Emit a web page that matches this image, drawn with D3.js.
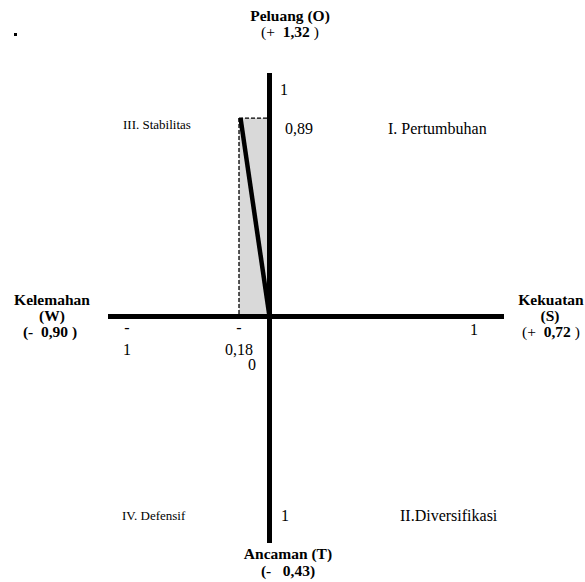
<!DOCTYPE html>
<html>
<head>
<meta charset="utf-8">
<script src="https://cdn.jsdelivr.net/npm/d3@7"></script>
<style>
  html, body { margin: 0; padding: 0; background: #fff; }
  svg { display: block; }
</style>
</head>
<body>
<svg id="chart" width="585" height="582" font-family="'Liberation Serif', 'DejaVu Serif', serif"></svg>
<script>
// ---- data ----
const factorNames = ["Peluang (O)", "Kekuatan", "Ancaman (T)", "Kelemahan"];
const factorCodes = ["", "(S)", "", "(W)"];
const factorSigns = ["+", "+", "-", "-"];
const factorScores = ["1,32", "0,72", "0,43", "0,90"];
const quadrantNames = ["I. Pertumbuhan", "II.Diversifikasi", "III. Stabilitas", "IV. Defensif"];
const positionX = [-0.18];
const positionY = [0.89];
const tickLabels = ["1", "0,89", "1", "1", "0,18", "0", "1"];

// ---- layout ----
const FONT = "'Liberation Serif', 'DejaVu Serif', serif";
const svg = d3.select("#chart");
const ox = 269.5, oy = 316.5;
const x = d3.scaleLinear().domain([-1, 1]).range([ox - 169.4, ox + 169.4]);
const y = d3.scaleLinear().domain([-1, 1]).range([oy + 223, oy - 223]);

const pt = { x: positionX[0], y: positionY[0] };

// shaded rectangle
svg.append("rect")
  .attr("x", x(pt.x)).attr("y", y(pt.y))
  .attr("width", x(0) - x(pt.x)).attr("height", y(0) - y(pt.y))
  .attr("fill", "#d9d9d9");

// dashed guides
svg.append("line")
  .attr("x1", x(pt.x)).attr("y1", y(pt.y)).attr("x2", x(0)).attr("y2", y(pt.y))
  .attr("stroke", "#000").attr("stroke-width", 1.3).attr("stroke-dasharray", "4,2");
svg.append("line")
  .attr("x1", x(pt.x)).attr("y1", y(pt.y)).attr("x2", x(pt.x)).attr("y2", y(0))
  .attr("stroke", "#000").attr("stroke-width", 1.3).attr("stroke-dasharray", "4,2");

// axes
svg.append("line").attr("x1", 108).attr("x2", 504).attr("y1", oy).attr("y2", oy)
  .attr("stroke", "#000").attr("stroke-width", 5);
svg.append("line").attr("x1", ox).attr("x2", ox).attr("y1", 73).attr("y2", 543)
  .attr("stroke", "#000").attr("stroke-width", 5);

// diagonal position line
svg.append("line")
  .attr("x1", x(pt.x) + 1.5).attr("y1", y(pt.y))
  .attr("x2", x(0)).attr("y2", y(0))
  .attr("stroke", "#000").attr("stroke-width", 4.5);

// stray dot
svg.append("rect").attr("x", 14).attr("y", 33).attr("width", 3).attr("height", 3).attr("fill", "#000");

function txt(xx, yy, size, anchor) {
  return svg.append("text").attr("x", xx).attr("y", yy)
    .attr("font-family", FONT).attr("font-size", size)
    .attr("text-anchor", anchor || "middle")
    .style("white-space", "pre").attr("fill", "#000");
}
function title(cx, yy, s) {
  return txt(cx, yy, 15.5).attr("font-weight", "bold").text(s);
}
function score(cx, yy, sign, val, signBold) {
  const t = txt(cx, yy, 15.5);
  t.append("tspan").attr("font-weight", signBold ? "bold" : "normal").text("(" + sign + "  ");
  t.append("tspan").attr("font-weight", "bold").text(val);
  t.append("tspan").attr("font-weight", signBold ? "bold" : "normal").text(" )");
  return t;
}
// O (top)
title(290, 21, factorNames[0]);
score(290, 37, factorSigns[0], factorScores[0], false);
// S (right)
title(551, 305, factorNames[1]);
title(550, 321, factorCodes[1]);
score(551, 337, factorSigns[1], factorScores[1], false);
// T (bottom)
title(288, 559, factorNames[2]);
txt(288, 576, 15.5).attr("font-weight", "bold")
  .text("(" + factorSigns[2] + "   " + factorScores[2] + ")");
// W (left)
title(52, 305, factorNames[3]);
title(52, 321, factorCodes[3]);
score(50, 337, factorSigns[3], factorScores[3], true);

// quadrant labels
txt(388, 134, 16, "start").text(quadrantNames[0]);
txt(400, 521, 16, "start").text(quadrantNames[1]);
txt(123, 129, 13, "start").text(quadrantNames[2]);
txt(122, 520, 13, "start").text(quadrantNames[3]);

// tick labels
function lbl(cx, yy, s, anchor) { txt(cx, yy, 16, anchor).text(s); }
lbl(280, 95, tickLabels[0], "start");           // top 1
lbl(285, 134, tickLabels[1], "start");          // 0,89
lbl(281, 521, tickLabels[2], "start");          // bottom 1
lbl(474, 335, tickLabels[3]);                   // right 1
lbl(127, 333, "-"); lbl(127, 355, tickLabels[6]); // left -1
lbl(239, 333, "-"); lbl(239, 355, tickLabels[4]); // -0,18
lbl(252, 370, tickLabels[5]);                   // 0
</script>
</body>
</html>
